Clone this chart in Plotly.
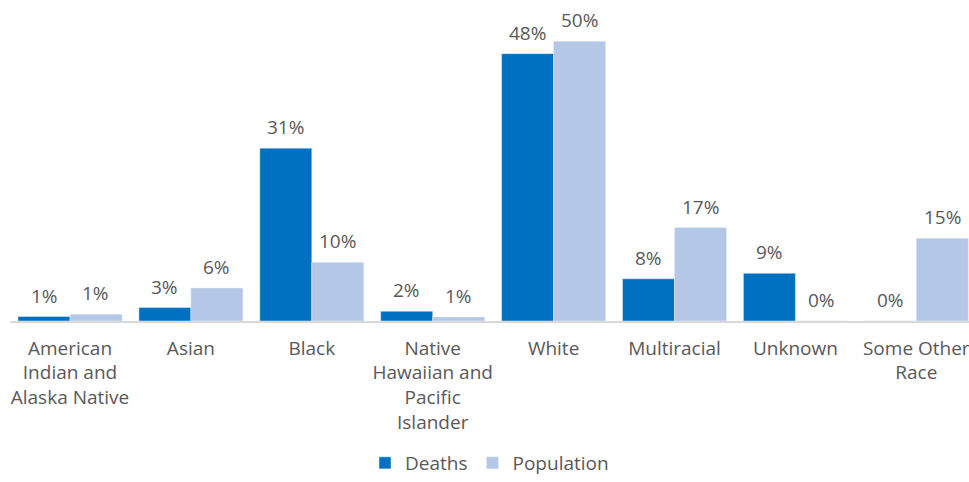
import plotly.graph_objects as go

categories = ["American<br>Indian and<br>Alaska Native", "Asian", "Black",
              "Native<br>Hawaiian and<br>Pacific<br>Islander", "White",
              "Multiracial", "Unknown", "Some Other<br>Race"]
deaths = [0.8, 2.4, 30.9, 1.75, 47.8, 7.55, 8.55, 0.0]
population = [1.2, 5.9, 10.5, 0.7, 50.0, 16.7, 0.0, 14.8]
deaths_labels = ["1%", "3%", "31%", "2%", "48%", "8%", "9%", "0%"]
population_labels = ["1%", "6%", "10%", "1%", "50%", "17%", "0%", "15%"]

FONT = "Open Sans"
GREY = "#595959"
FS = 19

fig = go.Figure()
fig.add_trace(go.Bar(name="Deaths", x=categories, y=deaths,
                     marker_color="#0070C0", cliponaxis=False))
fig.add_trace(go.Bar(name="Population", x=categories, y=population,
                     marker_color="#B4C7E7", cliponaxis=False))

W, H, L, R, T, B = 969, 482, 10, 0, 10, 161
slot_px = 120.9
plot_w = W - L - R
x0 = -(70 - L) / slot_px
x1 = x0 + plot_w / slot_px
half_bar = slot_px * (1 - 0.14) / 4

annotations = []
for cat, v, t in zip(categories, deaths, deaths_labels):
    annotations.append(dict(x=cat, y=v, text=t, xref="x", yref="y", showarrow=False,
                            yanchor="bottom", xshift=-half_bar, yshift=6,
                            font=dict(size=FS, color=GREY, family=FONT)))
for cat, v, t in zip(categories, population, population_labels):
    annotations.append(dict(x=cat, y=v, text=t, xref="x", yref="y", showarrow=False,
                            yanchor="bottom", xshift=half_bar, yshift=6,
                            font=dict(size=FS, color=GREY, family=FONT)))

fig.update_layout(
    width=W, height=H,
    margin=dict(l=L, r=R, t=T, b=B, autoexpand=False),
    barmode="group", bargap=0.14, bargroupgap=0,
    plot_bgcolor="white", paper_bgcolor="white",
    font=dict(family=FONT, size=FS, color=GREY),
    showlegend=True,
    legend=dict(orientation="h", x=0.5, xanchor="center",
                yref="container", y=0, yanchor="bottom",
                font=dict(size=FS, color=GREY, family=FONT)),
    xaxis=dict(showline=True, linecolor="#D9D9D9", linewidth=1.5, ticks="",
               range=[x0, x1], automargin=False, ticklabelstandoff=9,
               tickfont=dict(size=FS, color=GREY, family=FONT)),
    yaxis=dict(range=[0, 55.6], showgrid=False, showticklabels=False, zeroline=False),
    annotations=annotations,
)

fig.write_html("out.html", config={"displayModeBar": False},
               post_script="document.body.style.margin='0';document.body.style.overflow='hidden';")
